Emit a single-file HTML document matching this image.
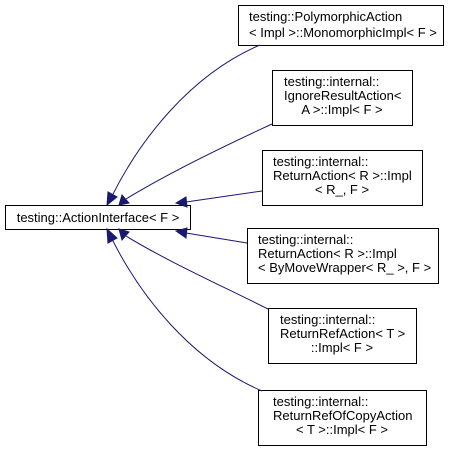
<!DOCTYPE html>
<html><head><style>html,body{margin:0;padding:0;background:#fff}svg{display:block}</style></head><body>
<svg width="452" height="451" viewBox="0 0 452 451" xmlns="http://www.w3.org/2000/svg" font-family="Liberation Sans, sans-serif" font-size="13">
<g fill="#fff" stroke="#000" stroke-width="1">
<rect x="5.5" y="205.5" width="185" height="24"/>
<rect x="238.5" y="5.5" width="205" height="40"/>
<rect x="272.5" y="70.5" width="140" height="55"/>
<rect x="262.5" y="150.5" width="160" height="55"/>
<rect x="247.5" y="228.5" width="191" height="55"/>
<rect x="268.5" y="308.5" width="148" height="55"/>
<rect x="258.5" y="390.5" width="168" height="55"/>
</g>
<g fill="#000">
<text x="98" y="222" text-anchor="middle">testing::ActionInterface&lt; F &gt;</text>
<text x="249" y="21">testing::PolymorphicAction</text>
<text x="249" y="37">&lt; Impl &gt;::MonomorphicImpl&lt; F &gt;</text>
<text x="284" y="86">testing::internal::</text>
<text x="284" y="100">IgnoreResultAction&lt;</text>
<text x="342" y="114" text-anchor="middle">A &gt;::Impl&lt; F &gt;</text>
<text x="273" y="166">testing::internal::</text>
<text x="273" y="180">ReturnAction&lt; R &gt;::Impl</text>
<text x="342" y="194" text-anchor="middle">&lt; R_, F &gt;</text>
<text x="258" y="244">testing::internal::</text>
<text x="258" y="258">ReturnAction&lt; R &gt;::Impl</text>
<text x="258" y="272">&lt; ByMoveWrapper&lt; R_ &gt;, F &gt;</text>
<text x="280" y="324">testing::internal::</text>
<text x="280" y="338">ReturnRefAction&lt; T &gt;</text>
<text x="342" y="352" text-anchor="middle">::Impl&lt; F &gt;</text>
<text x="273" y="406">testing::internal::</text>
<text x="273" y="420">ReturnRefOfCopyAction</text>
<text x="342" y="434" text-anchor="middle">&lt; T &gt;::Impl&lt; F &gt;</text>
</g>
<g fill="none" stroke="#191970" stroke-width="1">
<path d="M260,45 C190,75 140,140 112,196"/>
<path d="M272,124 C220,148 165,175 126,199"/>
<path d="M262,191 L186,202"/>
<path d="M247,243 L186,233"/>
<path d="M268,309 C220,285 165,260 126,236"/>
<path d="M262,391 C190,360 140,295 112,239"/>
</g>
<g fill="#191970" stroke="#191970">
<polygon points="107,205 108,192 117,197"/>
<polygon points="119,205 122,195 129,203"/>
<polygon points="176,203 186,197 187,207"/>
<polygon points="176,231 187,228 186,238"/>
<polygon points="119,229 129,232 122,240"/>
<polygon points="107,229 117,238 108,243"/>
</g>
</svg>
</body></html>
